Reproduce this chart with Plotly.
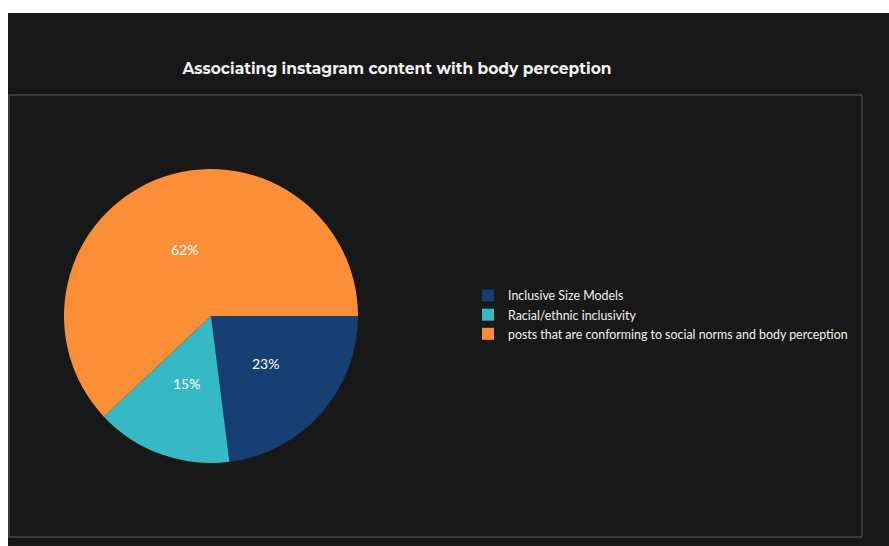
import math
import plotly.graph_objects as go

labels = ["Inclusive Size Models", "Racial/ethnic inclusivity",
          "posts that are conforming to social norms and body perception"]
values = [23, 15, 62]
colors = ["#173f73", "#36b9c5", "#fb8f37"]

W, H = 889, 546
cx, cy, r = 211, 316, 147
x0d, x1d = (cx - r) / W, (cx + r) / W
y0d, y1d = 1 - (cy + r) / H, 1 - (cy - r) / H

fig = go.Figure(go.Pie(
    labels=labels, values=values, sort=False, direction="clockwise", rotation=90,
    marker=dict(colors=colors, line=dict(width=0)),
    textinfo="none",
    domain=dict(x=[x0d, x1d], y=[y0d, y1d]),
    hoverinfo="label+percent",
))

# percentage labels placed at the middle angle of each slice, ~half radius
total = sum(values)
annotations = []
cum = 0
for v in values:
    mid = (cum + v / 2) / total * 2 * math.pi  # clockwise from east
    cum += v
    px = cx + 0.49 * r * math.cos(mid)
    py = cy + 0.49 * r * math.sin(mid)
    annotations.append(dict(
        x=px / W, y=1 - py / H, xref="paper", yref="paper", showarrow=False,
        text=f"{round(v / total * 100)}%", xanchor="center", yanchor="middle",
        font=dict(family="Lato", size=14, color="#ffffff")))

fig.update_layout(
    width=W, height=H, margin=dict(l=0, r=0, t=0, b=0),
    paper_bgcolor="#181818", plot_bgcolor="#181818",
    title=dict(text="<b>Associating instagram content with body perception</b>",
               x=397 / W, xanchor="center", y=1 - 69 / H, yanchor="middle",
               font=dict(family="Montserrat, Open Sans, sans-serif", size=15.5, color="#f2f2f2")),
    legend=dict(x=468 / W, xanchor="left", y=1 - 315 / H, yanchor="middle",
                font=dict(family="Lato", size=12.4, color="#f2f2f2"),
                bgcolor="rgba(0,0,0,0)", tracegroupgap=0, itemsizing="constant"),
    annotations=annotations,
    shapes=[
        dict(type="rect", xref="paper", yref="paper", x0=0, x1=1, y0=1 - 13 / H, y1=1,
             fillcolor="#ffffff", line=dict(width=0), layer="above"),
        dict(type="rect", xref="paper", yref="paper", x0=0, x1=8 / W, y0=0, y1=1,
             fillcolor="#ffffff", line=dict(width=0), layer="above"),
        dict(type="rect", xref="paper", yref="paper", x0=9 / W, x1=862 / W,
             y0=1 - 537 / H, y1=1 - 95 / H, fillcolor="rgba(0,0,0,0)",
             line=dict(color="#5e5e5e", width=1), layer="below"),
    ],
)

fig.write_html("out.html")
